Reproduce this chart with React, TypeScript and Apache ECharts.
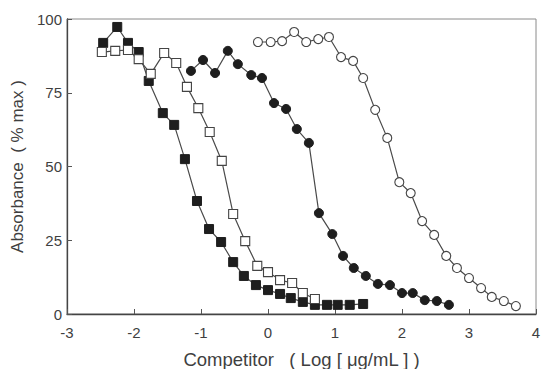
import React, { useEffect, useRef } from "react";
import * as echarts from "echarts";

// Filled squares
const fsX = [-2.46, -2.25, -2.09, -1.93, -1.78, -1.57, -1.4, -1.24, -1.06, -0.88, -0.7, -0.52, -0.36, -0.18, 0.0, 0.18, 0.34, 0.52, 0.7, 0.88, 1.04, 1.22, 1.42];
const fsY = [91.9, 97.3, 91.9, 88.8, 79, 68.1, 64.1, 52.5, 38.3, 28.8, 24.4, 17.6, 12.9, 9.8, 8.1, 6.8, 5.4, 4.1, 3.1, 3.1, 3.1, 3.1, 3.4];

// Open squares
const osX = [-2.48, -2.28, -2.09, -1.93, -1.75, -1.55, -1.37, -1.21, -1.04, -0.87, -0.69, -0.52, -0.34, -0.16, 0.0, 0.18, 0.36, 0.52, 0.7];
const osY = [88.8, 89.2, 89.5, 86.4, 81.4, 88.5, 85.1, 77.0, 69.8, 61.7, 51.9, 33.9, 24.7, 16.3, 14.2, 11.5, 10.5, 7.1, 5.1];

// Filled circles
const fcX = [-1.15, -0.97, -0.79, -0.6, -0.45, -0.25, -0.09, 0.09, 0.27, 0.43, 0.61, 0.76, 0.96, 1.12, 1.28, 1.46, 1.64, 1.82, 2.0, 2.16, 2.34, 2.52, 2.7];
const fcY = [82.4, 86.1, 81.7, 89.2, 84.7, 81.0, 80.0, 71.5, 69.5, 62.7, 58.0, 34.2, 27.1, 19.7, 15.6, 12.9, 10.2, 9.8, 7.1, 7.1, 4.7, 4.4, 3.1];

// Open circles
const ocX = [-0.15, 0.04, 0.21, 0.39, 0.57, 0.75, 0.91, 1.09, 1.27, 1.42, 1.6, 1.78, 1.96, 2.13, 2.3, 2.48, 2.66, 2.82, 3.0, 3.18, 3.34, 3.52, 3.7];
const ocY = [92.2, 92.2, 92.5, 95.6, 92.2, 93.2, 93.9, 87.1, 85.8, 80.0, 69.2, 59.7, 44.7, 41.0, 31.5, 26.8, 19.7, 15.6, 12.2, 8.8, 5.8, 4.4, 2.7];

const xTicks = { min: -3, max: 4, interval: 1 };
const yTicks = { min: 0, max: 100, interval: 25 };

const xName = "Competitor   ( Log [ μg/mL ] )";
const yName = "Absorbance  ( % max )";

const zip = (xs: number[], ys: number[]) => xs.map((x, i) => [x, ys[i]]);

export default function App() {
  const ref = useRef<HTMLDivElement>(null);
  useEffect(() => {
    if (!ref.current) return;
    const chart = echarts.init(ref.current, null, { renderer: "svg" });
    const font = "Liberation Sans, Arial, sans-serif";
    const lineStyle = { color: "#4a4a4a", width: 1.2 };
    const mk = (data: number[][], symbol: string, filled: boolean, size: number) => ({
      type: "line",
      data,
      symbol,
      symbolSize: size,
      showSymbol: true,
      lineStyle,
      itemStyle: filled
        ? { color: "#1e1e1e", borderColor: "#1e1e1e", borderWidth: 1 }
        : { color: "#ffffff", borderColor: "#444444", borderWidth: 1.1 },
      emphasis: { disabled: true },
      z: 3,
    });
    chart.setOption({
      animation: false,
      backgroundColor: "#ffffff",
      grid: {
        left: 67,
        right: 7,
        top: 19,
        bottom: 55,
        containLabel: false,
        outerBoundsMode: "none",
        show: true,
        borderColor: "#8a8a8a",
        borderWidth: 1,
        backgroundColor: "transparent",
      },
      xAxis: {
        type: "value",
        ...xTicks,
        name: xName,
        nameLocation: "middle",
        nameGap: 36,
        nameTextStyle: { fontSize: 18.5, color: "#3f3f3f", fontFamily: font },
        axisLine: { show: true, onZero: false, lineStyle: { color: "#444", width: 1.3 } },
        axisTick: { show: true, inside: true, length: 5, lineStyle: { color: "#555" } },
        axisLabel: { fontSize: 15, color: "#3f3f3f", fontFamily: font, margin: 11 },
        splitLine: { show: false },
      },
      yAxis: {
        type: "value",
        ...yTicks,
        name: yName,
        nameLocation: "middle",
        nameGap: 33,
        nameTextStyle: { fontSize: 17, color: "#3f3f3f", fontFamily: font },
        axisLine: { show: true, onZero: false, lineStyle: { color: "#444", width: 1.3 } },
        axisTick: { show: true, inside: true, length: 5, lineStyle: { color: "#555" } },
        axisLabel: { fontSize: 15, color: "#3f3f3f", fontFamily: font, margin: 5 },
        splitLine: { show: false },
      },
      series: [
        mk(zip(fsX, fsY), "rect", true, 9),
        mk(zip(osX, osY), "rect", false, 9),
        mk(zip(fcX, fcY), "circle", true, 9),
        mk(zip(ocX, ocY), "circle", false, 9),
      ],
    });
    return () => chart.dispose();
  }, []);
  return <div ref={ref} style={{ width: 543, height: 369, position: "absolute", left: 0, top: 0 }} />;
}
